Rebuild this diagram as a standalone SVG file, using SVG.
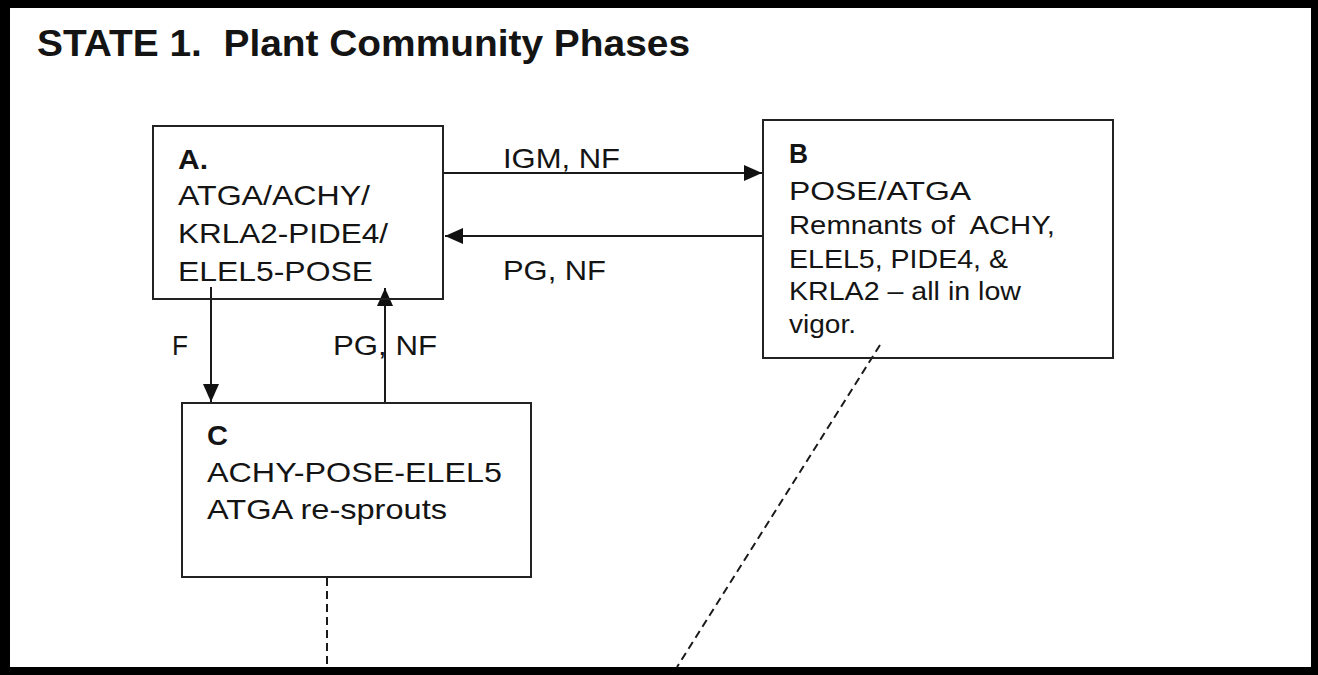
<svg xmlns="http://www.w3.org/2000/svg" width="1318" height="675" viewBox="0 0 1318 675">
<style>
text{font-family:"Liberation Sans",Arial,sans-serif;fill:#141414;white-space:pre}
.t{font-size:36px;font-weight:bold}
.h{font-size:28px;font-weight:bold}
.m{font-size:28px}
.s{font-size:26px}
.box{fill:#fff;stroke:#222;stroke-width:2}
.con{stroke:#1a1a1a;stroke-width:2;fill:none}
.dash{stroke:#1a1a1a;stroke-width:2;fill:none;stroke-dasharray:8 5}
</style>
<defs>
<marker id="ah" markerUnits="userSpaceOnUse" markerWidth="18" markerHeight="16" refX="18" refY="8" orient="auto">
<path d="M0,0 L18,8 L0,16 z" fill="#111"/>
</marker>
</defs>
<rect x="0" y="0" width="1318" height="675" fill="#000"/>
<rect x="10" y="8" width="1301" height="659" fill="#fff"/>
<text class="t" x="37" y="56" textLength="653" lengthAdjust="spacingAndGlyphs">STATE 1.  Plant Community Phases</text>
<g id="connectors">
<line class="con" x1="443" y1="173" x2="762" y2="173" marker-end="url(#ah)"/>
<line class="con" x1="763" y1="236" x2="445" y2="236" marker-end="url(#ah)"/>
<line class="con" x1="211" y1="287" x2="211" y2="402" marker-end="url(#ah)"/>
<line class="con" x1="385" y1="403" x2="385" y2="288" marker-end="url(#ah)"/>
<line class="dash" x1="327" y1="578" x2="327" y2="667"/>
<line class="dash" x1="880" y1="345" x2="677" y2="667"/>
<text class="m" x="503" y="168" textLength="117" lengthAdjust="spacingAndGlyphs">IGM, NF</text>
<text class="m" x="503" y="280" textLength="103" lengthAdjust="spacingAndGlyphs">PG, NF</text>
<text class="m" x="172" y="355" textLength="16" lengthAdjust="spacingAndGlyphs">F</text>
<text class="m" x="333" y="355" textLength="104" lengthAdjust="spacingAndGlyphs">PG, NF</text>
</g>
<g id="nodeA">
<rect class="box" x="153" y="126" width="290" height="173" style="fill:none"/>
<text class="h" x="178" y="169" textLength="30" lengthAdjust="spacingAndGlyphs">A.</text>
<text class="m" x="178" y="205" textLength="192" lengthAdjust="spacingAndGlyphs">ATGA/ACHY/</text>
<text class="m" x="178" y="243" textLength="210" lengthAdjust="spacingAndGlyphs">KRLA2-PIDE4/</text>
<text class="m" x="178" y="281" textLength="195" lengthAdjust="spacingAndGlyphs">ELEL5-POSE</text>
</g>
<g id="nodeB">
<rect class="box" x="763" y="120" width="350" height="238" style="fill:none"/>
<text class="h" x="789" y="163" textLength="19" lengthAdjust="spacingAndGlyphs">B</text>
<text class="s" x="789" y="200" textLength="182" lengthAdjust="spacingAndGlyphs">POSE/ATGA</text>
<text class="s" x="789" y="234" textLength="266" lengthAdjust="spacingAndGlyphs">Remnants of  ACHY,</text>
<text class="s" x="789" y="268" textLength="219" lengthAdjust="spacingAndGlyphs">ELEL5, PIDE4, &amp;</text>
<text class="s" x="789" y="300" textLength="232" lengthAdjust="spacingAndGlyphs">KRLA2 – all in low</text>
<text class="s" x="789" y="333" textLength="67" lengthAdjust="spacingAndGlyphs">vigor.</text>
</g>
<g id="nodeC">
<rect class="box" x="182" y="403" width="349" height="174"/>
<text class="h" x="207" y="445" textLength="21" lengthAdjust="spacingAndGlyphs">C</text>
<text class="m" x="207" y="482" textLength="295" lengthAdjust="spacingAndGlyphs">ACHY-POSE-ELEL5</text>
<text class="m" x="207" y="519" textLength="240" lengthAdjust="spacingAndGlyphs">ATGA re-sprouts</text>
</g>
</svg>
